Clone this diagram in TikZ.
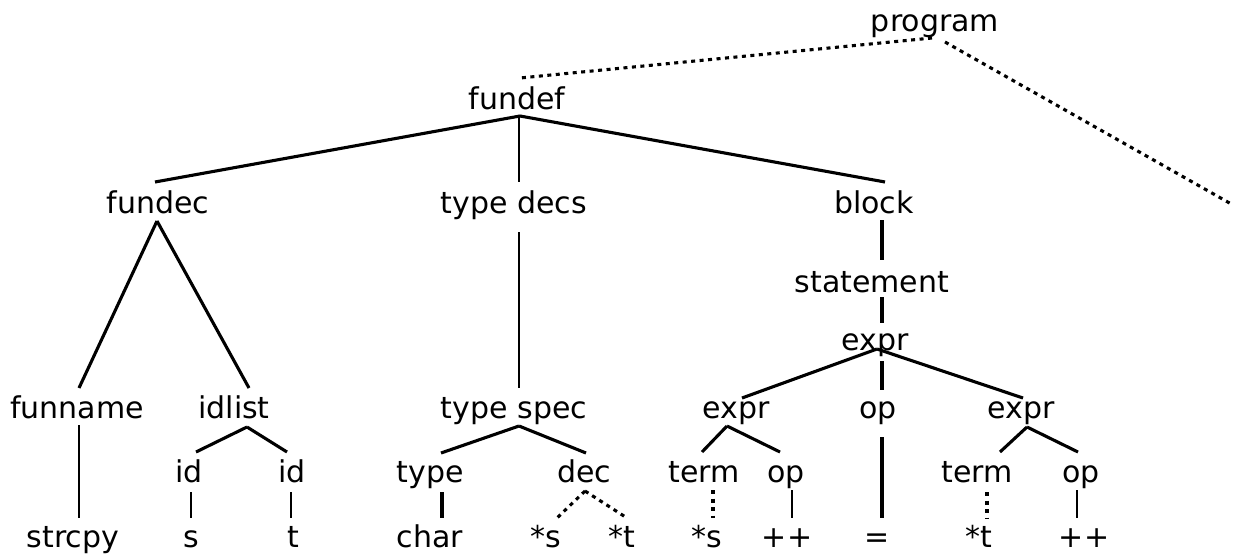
\documentclass[tikz,border=0pt]{standalone}
\usepackage{fontspec}
\setmainfont{DejaVu Sans}
\begin{document}
\begin{tikzpicture}[x=1pt,y=1pt,
  lbl/.style={anchor=base,inner sep=0pt,font=\fontsize{30}{34}\selectfont,text=black},
  thickline/.style={line width=3.1pt,black},
  thinline/.style={line width=1.6pt,black},
  dotline/.style={line width=3.1pt,black,dash pattern=on 4pt off 4.5pt}]
\useasboundingbox (0,0) rectangle (1233,-559);
% nodes
\node[lbl] (program) at (935,-32) {program};
\node[lbl] (fundef) at (517,-110) {fundef};
\node[lbl] (fundec) at (158,-213) {fundec};
\node[lbl] (typedecs) at (514,-213) {type decs};
\node[lbl] (block) at (874,-213) {block};
\node[lbl] (statement) at (872,-292) {statement};
\node[lbl] (exprT) at (875,-350) {expr};
\node[lbl] (funname) at (77,-418) {funname};
\node[lbl] (idlist) at (234,-418) {idlist};
\node[lbl] (typespec) at (514,-418) {type spec};
\node[lbl] (exprL) at (736,-418) {expr};
\node[lbl] (opM) at (878,-418) {op};
\node[lbl] (exprR) at (1021,-418) {expr};
\node[lbl] (idL) at (189,-482) {id};
\node[lbl] (idR) at (292,-482) {id};
\node[lbl] (type) at (430,-482) {type};
\node[lbl] (dec) at (584,-482) {dec};
\node[lbl] (termL) at (704,-482) {term};
\node[lbl] (opL) at (786,-482) {op};
\node[lbl] (termR) at (977,-482) {term};
\node[lbl] (opR) at (1081,-482) {op};
\node[lbl] (strcpy) at (73,-547) {strcpy};
\node[lbl] (s) at (191,-547) {s};
\node[lbl] (t) at (293,-547) {t};
\node[lbl] (char) at (430,-547) {char};
\node[lbl] (decs) at (546,-547) {*s};
\node[lbl] (dect) at (622,-547) {*t};
\node[lbl] (ls) at (707,-547) {*s};
\node[lbl] (lpp) at (787,-547) {++};
\node[lbl] (eq) at (877,-547) {=};
\node[lbl] (lt) at (979,-547) {*t};
\node[lbl] (rpp) at (1084,-547) {++};
\coordinate (offright) at (1233,-205);
% connectors
\draw[dotline] ([shift={(-3,-6)}]program.base) -- ([shift={(3,32)}]fundef.base);
\draw[dotline] ([shift={(10,-10)}]program.base) -- (offright);
\draw[thickline] ([shift={(3,-6)}]fundef.base) -- ([shift={(-3,31)}]fundec.base);
\draw[thinline] ([shift={(2,-6)}]fundef.base) -- ([shift={(5,31)}]typedecs.base);
\draw[thickline] ([shift={(3,-6)}]fundef.base) -- ([shift={(11,31)}]block.base);
\draw[thickline] ([shift={(-1,-8)}]fundec.base) -- ([shift={(2,30)}]funname.base);
\draw[thickline] ([shift={(-1,-8)}]fundec.base) -- ([shift={(15,30)}]idlist.base);
\draw[thinline] ([shift={(2,-7)}]funname.base) -- ([shift={(6,29)}]strcpy.base);
\draw[thickline] ([shift={(13,-9)}]idlist.base) -- ([shift={(7,30)}]idL.base);
\draw[thickline] ([shift={(13,-9)}]idlist.base) -- ([shift={(-5,30)}]idR.base);
\draw[thinline] ([shift={(2,-10)}]idL.base) -- ([shift={(0,29)}]s.base);
\draw[thinline] ([shift={(-1,-10)}]idR.base) -- ([shift={(-2,29)}]t.base);
\draw[thinline] ([shift={(5,-19)}]typedecs.base) -- ([shift={(5,30)}]typespec.base);
\draw[thickline] ([shift={(5,-8)}]typespec.base) -- ([shift={(11,29)}]type.base);
\draw[thickline] ([shift={(5,-8)}]typespec.base) -- ([shift={(2,29)}]dec.base);
\draw[thickline] ([shift={(12,-10)}]type.base) -- ([shift={(12,29)}]char.base);
\draw[dotline] ([shift={(1,-9)}]dec.base) -- ([shift={(11,29)}]decs.base);
\draw[dotline] ([shift={(1,-9)}]dec.base) -- ([shift={(5,29)}]dect.base);
\draw[thickline] ([shift={(8,-7)}]block.base) -- ([shift={(10,32)}]statement.base);
\draw[thickline] ([shift={(10,-5)}]statement.base) -- ([shift={(7,27)}]exprT.base);
\draw[thickline] ([shift={(2,1)}]exprT.base) -- ([shift={(6,20)}]exprL.base);
\draw[thickline] ([shift={(7,-11)}]exprT.base) -- ([shift={(4,28)}]opM.base);
\draw[thickline] ([shift={(2,1)}]exprT.base) -- ([shift={(2,20)}]exprR.base);
\draw[thickline] ([shift={(-9,-8)}]exprL.base) -- ([shift={(-2,30)}]termL.base);
\draw[thickline] ([shift={(-9,-8)}]exprL.base) -- ([shift={(-6,30)}]opL.base);
\draw[dotline] ([shift={(9,-8)}]termL.base) -- ([shift={(6,29)}]ls.base);
\draw[thinline] ([shift={(6,-8)}]opL.base) -- ([shift={(5,29)}]lpp.base);
\draw[thickline] ([shift={(4,-19)}]opM.base) -- ([shift={(5,29)}]eq.base);
\draw[thickline] ([shift={(6,-9)}]exprR.base) -- ([shift={(23,30)}]termR.base);
\draw[thickline] ([shift={(6,-9)}]exprR.base) -- ([shift={(-3,30)}]opR.base);
\draw[dotline] ([shift={(10,-10)}]termR.base) -- ([shift={(8,29)}]lt.base);
\draw[thinline] ([shift={(-4,-8)}]opR.base) -- ([shift={(-7,29)}]rpp.base);
\end{tikzpicture}
\end{document}
